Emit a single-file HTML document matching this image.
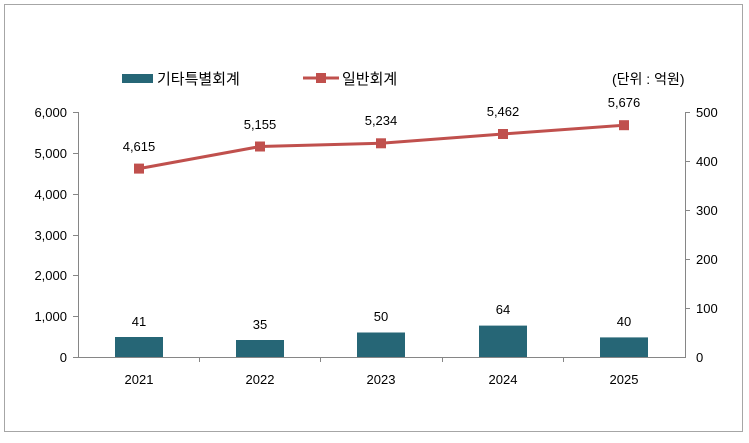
<!DOCTYPE html>
<html><head><meta charset="utf-8"><style>body{margin:0;background:#fff}</style></head><body>
<svg width="749" height="438" xmlns="http://www.w3.org/2000/svg" font-family="Liberation Sans, 'Noto Sans CJK KR', sans-serif">
<rect x="4.5" y="4.5" width="738" height="427" fill="#fff" stroke="#a6a6a6"/>
<g fill="#000" font-size="13">
<rect x="122" y="74" width="31" height="9" fill="#266676"/>
<text x="157" y="84" font-size="15">기타특별회계</text>
<line x1="303" y1="78" x2="339" y2="78" stroke="#c0504d" stroke-width="3"/>
<rect x="316" y="73" width="10" height="10" fill="#c0504d"/>
<text x="342" y="84" font-size="15">일반회계</text>
<text x="612" y="84" font-size="14">(단위 : 억원)</text>
</g>
<g stroke="#868686" stroke-width="1">
<line x1="78.5" y1="112" x2="78.5" y2="357"/>
<line x1="685.5" y1="112" x2="685.5" y2="357"/>
<line x1="78" y1="357.5" x2="686" y2="357.5"/>
<line x1="73" y1="112.5" x2="78" y2="112.5"/><line x1="73" y1="153.5" x2="78" y2="153.5"/><line x1="73" y1="194.5" x2="78" y2="194.5"/><line x1="73" y1="235.5" x2="78" y2="235.5"/><line x1="73" y1="275.5" x2="78" y2="275.5"/><line x1="73" y1="316.5" x2="78" y2="316.5"/><line x1="73" y1="357.5" x2="78" y2="357.5"/>
<line x1="685" y1="112.5" x2="690" y2="112.5"/><line x1="685" y1="161.5" x2="690" y2="161.5"/><line x1="685" y1="210.5" x2="690" y2="210.5"/><line x1="685" y1="259.5" x2="690" y2="259.5"/><line x1="685" y1="308.5" x2="690" y2="308.5"/>
<line x1="199.5" y1="357" x2="199.5" y2="362"/><line x1="320.5" y1="357" x2="320.5" y2="362"/><line x1="442.5" y1="357" x2="442.5" y2="362"/><line x1="563.5" y1="357" x2="563.5" y2="362"/>
</g>
<g font-size="13" text-anchor="end" fill="#000">
<text x="67" y="117">6,000</text><text x="67" y="158">5,000</text><text x="67" y="199">4,000</text><text x="67" y="240">3,000</text><text x="67" y="280">2,000</text><text x="67" y="321">1,000</text><text x="67" y="362">0</text>
</g>
<g font-size="13" fill="#000">
<text x="696" y="117">500</text><text x="696" y="166">400</text><text x="696" y="215">300</text><text x="696" y="264">200</text><text x="696" y="313">100</text><text x="696" y="362">0</text>
</g>
<g font-size="13" text-anchor="middle" fill="#000">
<text x="139" y="384">2021</text><text x="260" y="384">2022</text><text x="381" y="384">2023</text><text x="503" y="384">2024</text><text x="624" y="384">2025</text>
</g>
<g fill="#266676">
<rect x="115" y="337" width="48" height="20"/><rect x="236" y="340" width="48" height="17"/><rect x="357" y="332.5" width="48" height="24.5"/><rect x="479" y="325.6" width="48" height="31.4"/><rect x="600" y="337.4" width="48" height="19.6"/>
</g>
<g font-size="13" text-anchor="middle" fill="#000">
<text x="139" y="326">41</text><text x="260" y="329">35</text><text x="381" y="321">50</text><text x="503" y="314">64</text><text x="624" y="326">40</text>
</g>
<polyline points="139,168.6 260,146.5 381,143.3 503,134 624,125.2" fill="none" stroke="#c0504d" stroke-width="3"/>
<g fill="#c0504d">
<rect x="134" y="163.6" width="10" height="10"/><rect x="255" y="141.5" width="10" height="10"/><rect x="376" y="138.3" width="10" height="10"/><rect x="498" y="129" width="10" height="10"/><rect x="619" y="120.2" width="10" height="10"/>
</g>
<g font-size="13" text-anchor="middle" fill="#000">
<text x="139" y="151">4,615</text><text x="260" y="129">5,155</text><text x="381" y="125">5,234</text><text x="503" y="116">5,462</text><text x="624" y="107">5,676</text>
</g>
</svg>
</body></html>
